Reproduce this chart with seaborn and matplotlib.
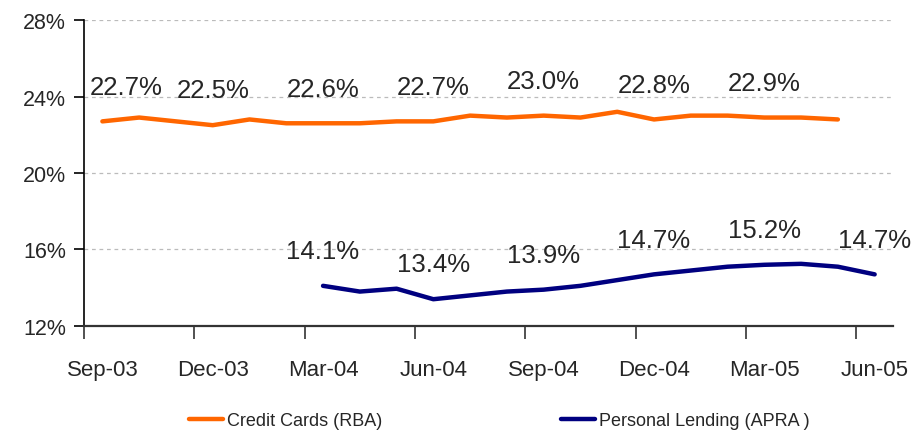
import numpy as np
import pandas as pd
import matplotlib.pyplot as plt
import seaborn as sns

# Data (monthly)
months = ['Sep-03', 'Oct-03', 'Nov-03', 'Dec-03', 'Jan-04', 'Feb-04',
          'Mar-04', 'Apr-04', 'May-04', 'Jun-04', 'Jul-04', 'Aug-04',
          'Sep-04', 'Oct-04', 'Nov-04', 'Dec-04', 'Jan-05', 'Feb-05',
          'Mar-05', 'Apr-05', 'May-05', 'Jun-05']
credit_cards = [22.7, 22.9, 22.7, 22.5, 22.8, 22.6, 22.6, 22.6, 22.7, 22.7,
                23.0, 22.9, 23.0, 22.9, 23.2, 22.8, 23.0, 23.0, 22.9, 22.9,
                22.8]
personal_lending = [14.1, 13.8, 13.95, 13.4, 13.6, 13.8, 13.9, 14.1, 14.4,
                    14.7, 14.9, 15.1, 15.2, 15.25, 15.1, 14.7]
y_ticks = [12, 16, 20, 24, 28]

cc_label = 'Credit Cards (RBA)'
pl_label = 'Personal Lending (APRA )'
cc_color = '#FF6600'
pl_color = '#000080'

sns.set_style("white")
plt.rcParams['font.family'] = ['Liberation Sans', 'DejaVu Sans']

n = len(months)
pl_start = n - len(personal_lending)
df = pd.DataFrame({
    'month': months,
    'pos': np.arange(n) + 0.5,
    cc_label: credit_cards + [np.nan] * (n - len(credit_cards)),
    pl_label: [np.nan] * pl_start + personal_lending,
})

fig = plt.figure(figsize=(9.2, 4.35), dpi=100)
ax = fig.add_axes([0.0913, 0.2483, 0.8794, 0.7034])

sns.lineplot(data=df, x='pos', y=cc_label, ax=ax, color=cc_color,
             linewidth=3.2, label=cc_label, legend=False)
sns.lineplot(data=df, x='pos', y=pl_label, ax=ax, color=pl_color,
             linewidth=3.2, label=pl_label, legend=False)

# Axes limits and ticks
ax.set_xlim(0, n)
ax.set_ylim(y_ticks[0], y_ticks[-1])
ax.set_yticks(y_ticks)
ax.set_yticklabels([f'{v}%' for v in y_ticks], fontsize=15.5)

quarters = np.arange(0, n, 3)
ax.set_xticks(quarters)
ax.set_xticklabels([])
ax.set_xticks(quarters + 0.5, minor=True)
ax.set_xticklabels([months[i] for i in quarters], minor=True, fontsize=16)
ax.tick_params(axis='x', which='major', length=9, width=1.2,
               color='#333333', direction='out', bottom=True)
ax.tick_params(axis='x', which='minor', length=0, pad=24)
ax.tick_params(axis='y', length=7, width=1.2, color='black',
               direction='out', left=True, pad=6)

ax.set_xlabel('')
ax.set_ylabel('')
ax.yaxis.grid(True, linestyle=(0, (3, 3)), color='#BBBBBB', linewidth=0.9)
ax.xaxis.grid(False)
sns.despine(ax=ax)
ax.spines['left'].set_color('black')
ax.spines['left'].set_linewidth(1.2)
ax.spines['bottom'].set_color('#333333')
ax.spines['bottom'].set_linewidth(1.6)

# Data labels every quarter
for i in range(0, len(credit_cards), 3):
    dx = 17 if i == 0 else 0
    ax.annotate(f'{credit_cards[i]:.1f}%', (df['pos'][i], credit_cards[i]),
                xytext=(dx, 25), textcoords='offset points', ha='center',
                va='center', fontsize=18.5, annotation_clip=False)
for j in range(0, len(personal_lending), 3):
    i = pl_start + j
    ax.annotate(f'{personal_lending[j]:.1f}%', (df['pos'][i], personal_lending[j]),
                xytext=(0, 25), textcoords='offset points', ha='center',
                va='center', fontsize=18.5, annotation_clip=False)

handles, labels = ax.get_legend_handles_labels()
fig.legend(handles, labels, loc='center left', bbox_to_anchor=(189 / 920, 1 - 422 / 435),
           ncol=2, frameon=False, borderpad=0, borderaxespad=0,
           handlelength=1.9, handletextpad=0.2, columnspacing=9.9,
           prop={'size': 13})

plt.savefig('out.png', dpi=100)
